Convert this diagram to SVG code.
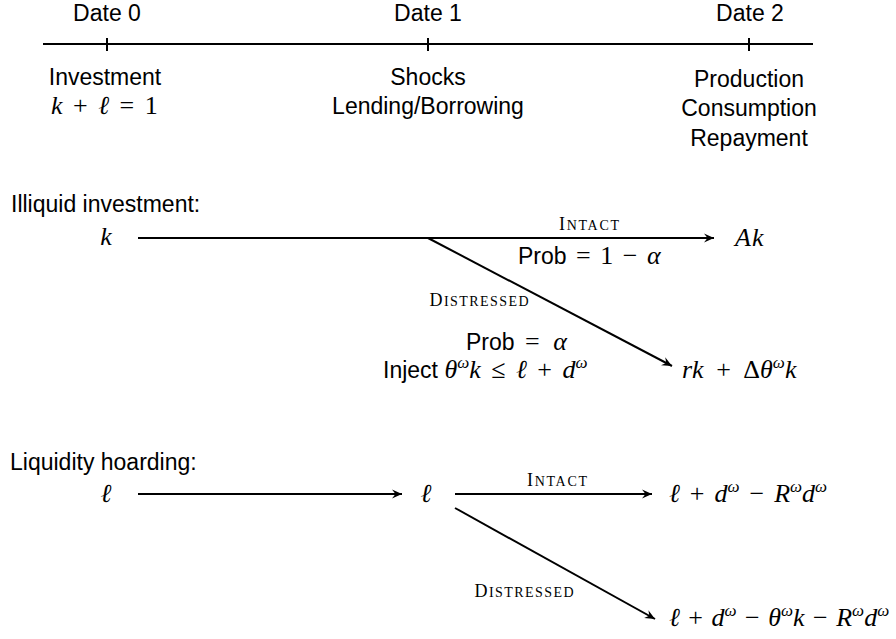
<svg xmlns="http://www.w3.org/2000/svg" width="896" height="639" viewBox="0 0 896 639">
<style>
  text { fill: #000; }
  .sf { font-family: "Liberation Sans", "DejaVu Sans", sans-serif; font-size: 23px; }
  .m { font-family: "Liberation Serif", "DejaVu Serif", serif; font-size: 26px; }
  .i { font-style: italic; }
  .sup { font-family: "Liberation Serif", "DejaVu Serif", serif; font-size: 17px; font-style: italic; }
  .sc1 { font-family: "Liberation Serif", "DejaVu Serif", serif; font-size: 18px; }
  .sc2 { font-family: "Liberation Serif", "DejaVu Serif", serif; font-size: 14px; }
  .mid { text-anchor: middle; }
  .ln { stroke: #000; stroke-width: 2; fill: none; }
  .arr { stroke: #000; stroke-width: 2; fill: none; marker-end: url(#ah); }
</style>
<defs>
  <marker id="ah" markerUnits="userSpaceOnUse" viewBox="-11 -6 12 12" refX="0" refY="0" markerWidth="12" markerHeight="12" orient="auto">
    <path d="M0,0 L-10,-4.5 L-6.5,0 L-10,4.5 Z" fill="#000"/>
  </marker>
</defs>

<g id="timeline">
  <line class="ln" x1="43" y1="44" x2="813" y2="44" stroke-width="2.5"/>
  <line class="ln" x1="107" y1="38" x2="107" y2="51" stroke-width="1.8"/>
  <line class="ln" x1="428" y1="38" x2="428" y2="51" stroke-width="1.8"/>
  <line class="ln" x1="749" y1="38" x2="749" y2="51" stroke-width="1.8"/>
</g>

<g id="date0">
  <text class="sf mid" x="107" y="21">Date 0</text>
  <text class="sf mid" x="105" y="85">Investment</text>
  <text class="m" x="51" y="114"><tspan class="i">k</tspan><tspan dx="4"> + </tspan><tspan class="i" dx="4">ℓ</tspan><tspan dx="4"> = </tspan><tspan dx="4">1</tspan></text>
</g>
<g id="date1">
  <text class="sf mid" x="428" y="21">Date 1</text>
  <text class="sf mid" x="428" y="85">Shocks</text>
  <text class="sf mid" x="428" y="114">Lending/Borrowing</text>
</g>
<g id="date2">
  <text class="sf mid" x="750" y="21">Date 2</text>
  <text class="sf mid" x="749" y="87">Production</text>
  <text class="sf mid" x="749" y="116">Consumption</text>
  <text class="sf mid" x="749" y="146">Repayment</text>
</g>

<g id="illiquid-title">
  <text class="sf" x="11" y="212">Illiquid investment:</text>
</g>
<g id="node-k">
  <text class="m i mid" x="106" y="245">k</text>
</g>
<g id="node-Ak">
  <text class="m i" x="735" y="246">A<tspan dx="1">k</tspan></text>
</g>
<g id="node-rk">
  <text class="m" x="682" y="378"><tspan class="i">rk</tspan><tspan dx="6"> + </tspan><tspan dx="6">Δ</tspan><tspan class="i">θ</tspan><tspan class="sup" dy="-10">ω</tspan><tspan class="i" dy="10">k</tspan></text>
</g>

<g id="liquidity-title">
  <text class="sf" x="10" y="470">Liquidity hoarding:</text>
</g>
<g id="node-l0">
  <text class="m i mid" x="106" y="502">ℓ</text>
</g>
<g id="node-l1">
  <text class="m i mid" x="426" y="502">ℓ</text>
</g>
<g id="node-intact2">
  <text class="m" x="669" y="502"><tspan class="i">ℓ</tspan><tspan dx="3.5"> + </tspan><tspan class="i" dx="3.5">d</tspan><tspan class="sup" dy="-10">ω</tspan><tspan dy="10" dx="3.5"> − </tspan><tspan class="i" dx="3.5">R</tspan><tspan class="sup" dy="-10">ω</tspan><tspan class="i" dy="10">d</tspan><tspan class="sup" dy="-10">ω</tspan></text>
</g>
<g id="node-distressed2">
  <text class="m" x="669" y="626"><tspan class="i">ℓ</tspan><tspan dx="2"> + </tspan><tspan class="i" dx="2">d</tspan><tspan class="sup" dy="-10">ω</tspan><tspan dy="10" dx="2"> − </tspan><tspan class="i" dx="2">θ</tspan><tspan class="sup" dy="-10">ω</tspan><tspan class="i" dy="10">k</tspan><tspan dx="2"> − </tspan><tspan class="i" dx="2">R</tspan><tspan class="sup" dy="-10">ω</tspan><tspan class="i" dy="10">d</tspan><tspan class="sup" dy="-10">ω</tspan></text>
</g>

<g id="connectors">
  <line class="arr" x1="138" y1="238" x2="714" y2="238"/>
  <line class="arr" x1="428" y1="238" x2="672" y2="366"/>
  <line class="arr" x1="138" y1="494" x2="402" y2="494"/>
  <line class="arr" x1="455" y1="494" x2="652" y2="494"/>
  <line class="arr" x1="455" y1="508" x2="655" y2="619"/>
</g>

<g id="labels">
  <text class="mid" x="589" y="230" textLength="60" lengthAdjust="spacing"><tspan class="sc1">I</tspan><tspan class="sc2">NTACT</tspan></text>
  <text x="518" y="264"><tspan class="sf">Prob</tspan><tspan class="m" dx="3"> = </tspan><tspan class="m" dx="3">1</tspan><tspan class="m" dx="3"> − </tspan><tspan class="m i" dx="3">α</tspan></text>
  <text class="mid" x="479" y="306" textLength="99" lengthAdjust="spacing"><tspan class="sc1">D</tspan><tspan class="sc2">ISTRESSED</tspan></text>
  <text x="466" y="350"><tspan class="sf">Prob</tspan><tspan class="m" dx="4"> = </tspan><tspan class="m i" dx="7">α</tspan></text>
  <text x="383" y="378"><tspan class="sf">Inject </tspan><tspan class="m i">θ</tspan><tspan class="sup" dy="-10">ω</tspan><tspan class="m i" dy="10">k</tspan><tspan class="m" dx="4"> ≤ </tspan><tspan class="m i" dx="4">ℓ</tspan><tspan class="m" dx="4"> + </tspan><tspan class="m i" dx="4">d</tspan><tspan class="sup" dy="-10">ω</tspan></text>
  <text class="mid" x="557" y="486" textLength="60" lengthAdjust="spacing"><tspan class="sc1">I</tspan><tspan class="sc2">NTACT</tspan></text>
  <text class="mid" x="524" y="597" textLength="99" lengthAdjust="spacing"><tspan class="sc1">D</tspan><tspan class="sc2">ISTRESSED</tspan></text>
</g>
</svg>
